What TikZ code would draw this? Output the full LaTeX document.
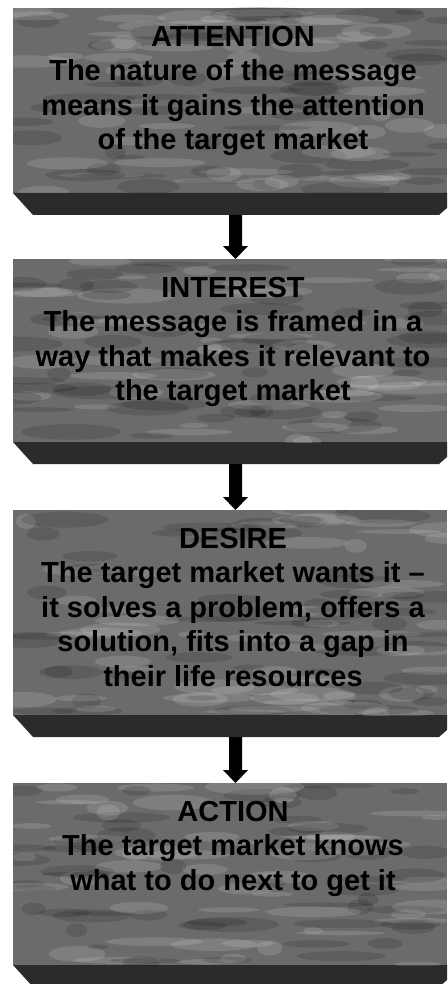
\documentclass[tikz,border=0pt]{standalone}
\usepackage{fontspec}
\setmainfont{Liberation Sans}
\usetikzlibrary{calc}
\definecolor{facegray}{gray}{0.42}
\definecolor{bevelgray}{gray}{0.17}
\newcommand\mottle[3]{%
  \begin{scope}
  \clip (#1.south west) rectangle (#1.north east);
  \foreach \i in {1,...,110}{
    \pgfmathsetmacro\px{13+434*rnd}
    \pgfmathsetmacro\py{-#2-(#3)*rnd}
    \pgfmathsetmacro\rw{10+40*rnd}
    \pgfmathsetmacro\rh{2+6*rnd}
    \ifodd\i \def\tc{white}\else\def\tc{black}\fi
    \fill[\tc, opacity=0.13] (\px,\py) ellipse [x radius=\rw pt, y radius=\rh pt];
  }
  \end{scope}}
\tikzset{
  face/.style={rectangle, fill=facegray, draw=none, minimum width=434pt, inner sep=0pt, outer sep=0pt, anchor=north west},
  bevel/.style={fill=bevelgray},
  txt/.style={anchor=north, align=center, inner sep=0pt, text=black,
    font=\fontsize{29}{34.5}\selectfont\bfseries},
  arrowfill/.style={fill=black}
}
\newcommand\flowarrow[2]{%
  \fill[arrowfill] ($(#1)+(-6.5,0)$) -- ($(#2)+(-6.5,13)$) -- ($(#2)+(-12.5,13)$) -- (#2)
    -- ($(#2)+(12.5,13)$) -- ($(#2)+(6.5,13)$) -- ($(#1)+(6.5,0)$) -- cycle;}
\begin{document}
\begin{tikzpicture}[x=1pt,y=1pt]
\useasboundingbox (0,0) rectangle (447,-984);
\fill[white] (0,0) rectangle (447,-984);
\pgfmathsetseed{17}
% faces
\node[face, minimum height=185pt] (f1) at (13,-8) {};
\node[face, minimum height=183pt] (f2) at (13,-259) {};
\node[face, minimum height=205pt] (f3) at (13,-510) {};
\node[face, minimum height=182pt] (f4) at (13,-783) {};
% bevels
\foreach \f in {f1,f2,f3,f4}{
  \fill[bevel] (\f.south west) -- (\f.south east) -- ++(0,-15) -- ++(-8,-7)
    -- ($(\f.south west)+(20,-22)$) -- cycle;
}
% texture
\mottle{f1}{8}{185}
\mottle{f2}{259}{183}
\mottle{f3}{510}{205}
\mottle{f4}{783}{182}
% texts
\node[txt] (t1) at ($(f1.north)+(3,-18)$) {ATTENTION\\The nature of the message\\means it gains the attention\\of the target market};
\node[txt] (t2) at ($(f2.north)+(3,-18)$) {INTEREST\\The message is framed in a\\way that makes it relevant to\\the target market};
\node[txt] (t3) at ($(f3.north)+(3,-18)$) {DESIRE\\The target market wants it –\\it solves a problem, offers a\\solution, fits into a gap in\\their life resources};
\node[txt] (t4) at ($(f4.north)+(3,-18)$) {ACTION\\The target market knows\\what to do next to get it};
% arrows
\coordinate (b1) at ($(f1.south west)+(222.5,-22)$);
\coordinate (b2) at ($(f2.south west)+(222.5,-22)$);
\coordinate (b3) at ($(f3.south west)+(222.5,-22)$);
\coordinate (e1) at (f2.north -| b1);
\coordinate (e2) at (f3.north -| b2);
\coordinate (e3) at (f4.north -| b3);
\flowarrow{b1}{e1}
\flowarrow{b2}{e2}
\flowarrow{b3}{e3}
\end{tikzpicture}
\end{document}
